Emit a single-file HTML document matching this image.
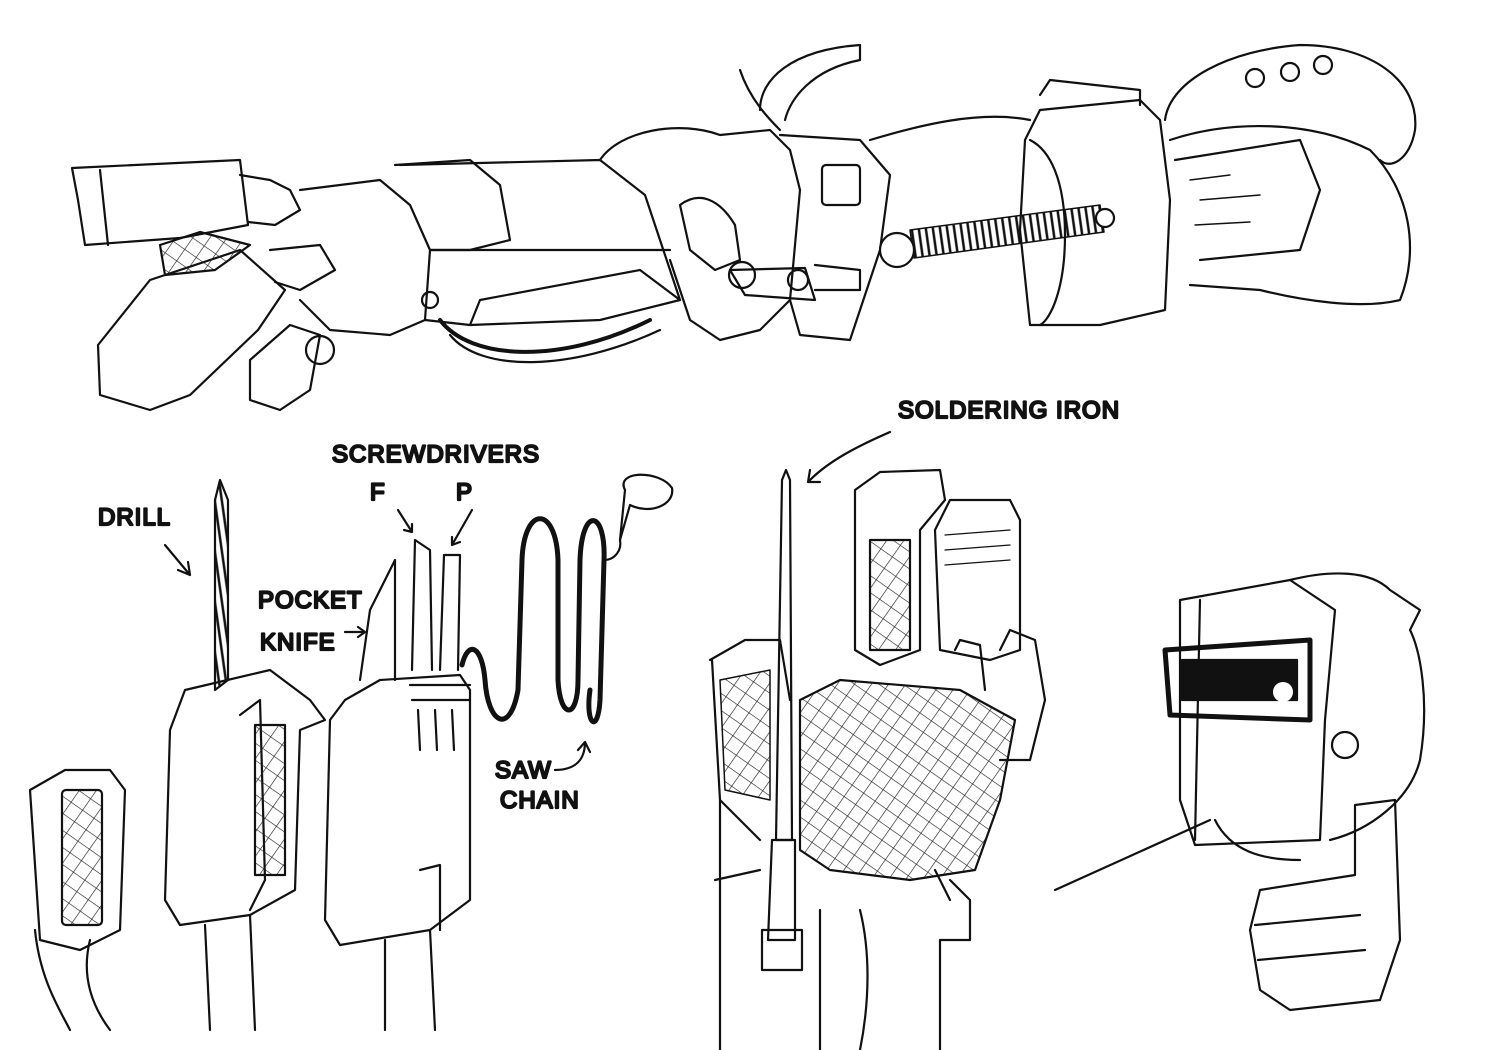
<!DOCTYPE html>
<html><head><meta charset="utf-8"><style>
html,body{margin:0;padding:0;background:#fff;width:1500px;height:1050px;overflow:hidden}
svg{display:block}
text{font-family:"Liberation Sans",sans-serif;font-size:24px;fill:#222;letter-spacing:1px}
</style></head><body>
<svg width="1500" height="1050" viewBox="0 0 1500 1050" fill="none" stroke="#111" stroke-width="2.2" stroke-linecap="round" stroke-linejoin="round">
<defs>
<pattern id="hatch" width="14" height="14" patternUnits="userSpaceOnUse" patternTransform="rotate(35)">
<path d="M0,0 L0,14 M0,0 L14,0" stroke="#222" stroke-width="1.3"/>
</pattern>
<pattern id="coil" width="7" height="20" patternUnits="userSpaceOnUse" patternTransform="rotate(-8)">
<path d="M3,0 L3,20" stroke="#111" stroke-width="2.5"/>
</pattern>
</defs>
<!-- TOP ARM -->
<path d="M72,168 L240,160 L248,225 L180,238 L85,245 L78,200 Z"/>
<path d="M100,170 L108,245"/>
<path d="M240,175 L270,180 L290,190 L300,210 L275,225 L248,222"/>
<path d="M98,345 L150,280 L240,250 L285,290 L258,330 L190,395 L150,410 L100,395 Z"/>
<path d="M250,360 L290,325 L320,335 L310,390 L280,410 L250,400 Z"/>
<path d="M160,245 L200,232 L250,245 L215,270 L165,275 Z" fill="url(#hatch)"/>
<path d="M270,250 L320,245 L335,270 L300,290 L275,282"/>
<circle cx="320" cy="350" r="14"/>
<path d="M300,190 L380,180 L410,205 L430,250 L425,320 L390,335 L330,330 L300,300"/>
<path d="M395,165 L470,160 L500,185 L510,240 L470,250 L430,250"/>
<path d="M400,165 L600,160 L645,195 L660,240 L680,300 L600,320 L470,325 L425,320"/>
<path d="M430,250 L670,250"/>
<path d="M470,325 L480,300 L640,270 L680,300"/>
<circle cx="430" cy="300" r="8"/>
<path d="M440,320 C470,360 560,365 650,320" stroke-width="4"/>
<path d="M450,335 C480,372 570,372 660,330"/>
<path d="M600,160 C620,130 680,120 720,135 L770,130 L790,150 L800,190 L790,300 L760,330 L720,340 L690,320 L670,260"/>
<path d="M680,205 C700,190 720,200 735,225 L740,260 L715,270 L690,250 Z"/>
<path d="M760,110 C760,80 790,50 860,45 L860,60 C810,70 790,100 785,120"/>
<path d="M740,70 C750,100 770,120 780,130"/>
<path d="M780,135 L860,140 L890,175 L880,250 L850,340 L800,335 L790,300"/>
<rect x="822" y="165" width="38" height="40" rx="4"/>
<circle cx="742" cy="275" r="13"/><circle cx="798" cy="280" r="10"/>
<path d="M730,270 L805,268 L815,300 L745,295 Z"/>
<path d="M815,265 L860,270 L860,290 L815,290"/>
<path d="M910,230 L1100,205 L1104,232 L914,258 Z" fill="url(#coil)" stroke-width="1.5"/>
<circle cx="897" cy="250" r="17" fill="#fff"/>
<circle cx="1105" cy="218" r="9" fill="#fff"/>
<path d="M870,140 C920,125 980,110 1030,120"/>
<path d="M1040,110 L1140,100 L1160,120 L1170,200 L1165,310 L1100,325 L1030,325 L1020,230 L1025,140 Z"/>
<path d="M1030,140 C1050,150 1065,180 1065,235 C1065,290 1050,320 1040,325"/>
<path d="M1040,95 L1050,80 L1140,90 L1140,105"/>
<path d="M1165,120 C1170,80 1230,50 1300,45 C1370,45 1420,80 1415,130 C1410,160 1390,170 1380,160"/>
<path d="M1170,140 C1230,120 1310,120 1370,150 C1410,190 1420,250 1400,300 C1360,310 1300,300 1260,290 L1190,285"/>
<circle cx="1255" cy="78" r="9"/><circle cx="1290" cy="72" r="9"/><circle cx="1323" cy="65" r="9"/>
<path d="M1175,160 L1300,140 L1320,190 L1300,250 L1200,260"/>
<path d="M1190,180 L1230,175 M1200,200 L1260,195 M1195,225 L1250,222" stroke-width="1.4"/>

<!-- BOTTOM LEFT -->
<path d="M30,790 L65,770 L110,770 L125,790 L120,930 L80,950 L40,940 Z"/>
<rect x="62" y="790" width="40" height="135" rx="4" fill="url(#hatch)"/>
<path d="M35,930 C40,980 60,1010 70,1030 M90,940 C80,980 95,1010 110,1030"/>
<path d="M220,480 L228,500 L228,680 L215,690 L215,500 Z" fill="url(#coil)"/>
<path d="M185,690 L270,670 L310,700 L325,720 L300,730 L295,890 L250,915 L180,925 L165,900 L170,730 Z"/>
<path d="M240,715 L260,700 L265,880 L250,910"/>
<rect x="255" y="725" width="30" height="150" fill="url(#hatch)"/>
<path d="M205,925 L210,1030 M250,915 L255,1030"/>
<path d="M345,700 L380,680 L460,675 L470,690 L470,900 L430,930 L340,945 L325,920 L330,720 Z"/>
<path d="M360,680 L370,610 L395,560 L395,680"/>
<path d="M412,670 L415,540 L430,550 L432,670 M440,670 L444,555 L460,555 L458,670"/>
<path d="M410,685 L470,685 M412,700 L470,700 M418,710 L420,750 M435,710 L437,750 M452,710 L454,750"/>
<path d="M385,940 L385,1030 M430,930 L435,1030"/>
<path d="M420,870 L440,865 L440,930"/>
<!-- saw chain -->
<path d="M462,665 C468,640 482,645 485,680 C488,725 510,735 518,690 L522,560 C524,505 556,505 558,560 L558,680 C560,720 578,720 578,680 L580,560 C582,505 606,510 604,560 L600,700 C598,735 585,725 590,690" stroke-width="5"/>
<path d="M604,560 C615,560 622,550 620,540"/>
<path d="M620,540 L625,490 C615,470 660,470 672,488 C675,505 650,515 630,505 L620,540"/>

<text x="98" y="525">DRILL</text>
<path d="M165,545 L190,575 M178,570 L190,575 L188,562"/>
<text x="258" y="608">POCKET</text>
<text x="260" y="650">KNIFE</text>
<path d="M345,632 L365,632 M358,627 L365,632 L358,637"/>
<text x="332" y="462">SCREWDRIVERS</text>
<text x="370" y="500">F</text><text x="456" y="500">P</text>
<path d="M398,510 L412,532 M404,530 L412,532 L412,524"/>
<path d="M472,510 L452,545 M452,537 L452,545 L460,542"/>
<text x="495" y="778">SAW</text>
<text x="500" y="808">CHAIN</text>
<path d="M555,770 C575,770 585,760 585,742 M578,750 L585,742 L590,752"/>

<!-- SOLDERING IRON HAND -->
<text x="898" y="418">SOLDERING IRON</text>
<path d="M890,432 C860,445 830,460 810,480 M810,470 L808,482 L820,482"/>
<path d="M782,480 L786,470 L790,480 L792,840 L776,840 Z"/>
<path d="M772,840 L795,840 L795,940 L768,940 Z"/>
<rect x="762" y="930" width="40" height="40"/>
<path d="M855,490 L880,472 L940,470 L945,500 L920,530 L920,650 L880,665 L855,650 Z"/>
<path d="M935,530 L950,500 L1010,500 L1020,520 L1020,650 L990,660 L940,650 Z"/>
<path d="M945,535 L1010,530 M945,550 L1010,545 M945,565 L1010,560" stroke-width="1.3"/>
<rect x="870" y="540" width="40" height="110" fill="url(#hatch)"/>
<path d="M1000,650 L1010,630 L1035,640 L1045,700 L1030,760 L1000,760"/>
<path d="M955,650 L960,640 L980,645 L985,690"/>
<path d="M710,660 L745,640 L780,640 L790,700 M712,660 L720,800 L760,840"/>
<path d="M720,680 L770,670 L770,800 L725,790 Z" fill="url(#hatch)" stroke-width="1.5"/>
<path d="M800,700 L840,680 L960,690 L1015,720 L1000,800 L975,870 L910,880 L830,870 L800,850 Z" fill="url(#hatch)"/>
<path d="M720,800 L720,1050 M715,880 L760,870 M950,880 L970,900 L970,940 L940,940 L940,1050 M820,910 L820,1050 M860,910 C870,950 870,1000 860,1050"/>
<path d="M935,870 L950,900"/>
<!-- welder -->
<path d="M1180,600 L1290,580 L1335,610 L1325,720 L1320,840 L1195,845 L1180,800 Z"/>
<path d="M1290,580 C1330,570 1370,570 1390,590 L1420,610 L1410,630 C1420,650 1430,700 1420,760 C1410,800 1370,830 1330,840"/>
<path d="M1200,600 L1195,840"/>
<path d="M1165,650 L1310,640 L1310,720 L1170,715 Z" stroke-width="5"/>
<rect x="1182" y="660" width="115" height="40" fill="#111"/>
<circle cx="1283" cy="692" r="10" fill="#fff" stroke="none"/>
<circle cx="1345" cy="745" r="13"/>
<path d="M1055,890 L1210,820 M1215,820 C1230,850 1260,860 1300,860"/>
<path d="M1260,890 L1355,875 L1355,805 L1395,800 L1400,940 L1380,1000 L1290,1010 L1260,990 L1250,930 Z"/>
<path d="M1255,925 L1360,915 M1258,960 L1365,950"/>
</svg>
</body></html>
